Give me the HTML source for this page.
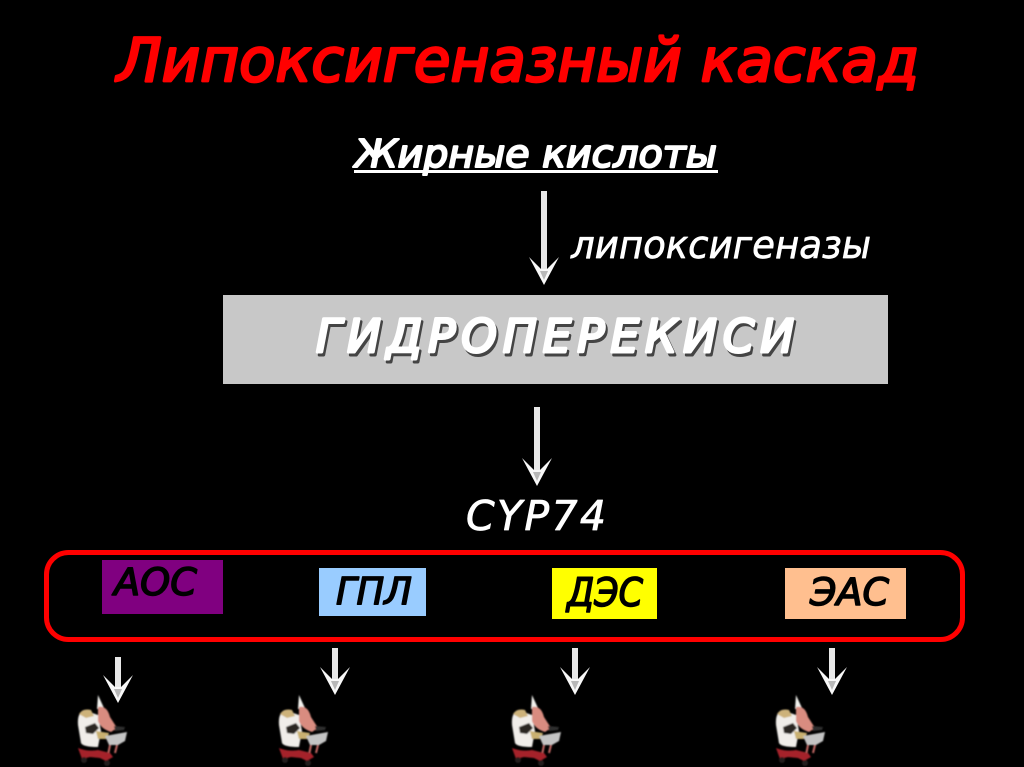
<!DOCTYPE html>
<html lang="ru"><head><meta charset="utf-8"><title>Липоксигеназный каскад</title>
<style>html,body{margin:0;padding:0;background:#000;width:1024px;height:767px;overflow:hidden}svg{display:block}
text{font-family:"DejaVu Sans","Liberation Sans",sans-serif;font-style:italic;stroke-linejoin:round;stroke-linecap:round}</style></head>
<body>
<svg width="1024" height="767" viewBox="0 0 1024 767" xmlns="http://www.w3.org/2000/svg">
<defs>
<filter id="soft" x="-10%" y="-10%" width="120%" height="120%"><feGaussianBlur stdDeviation="0.7"/></filter>
<g id="head">
<path d="M-15 -28 L0 0 L15 -28 L3 -16 L-3 -16 Z" fill="#f8f8f8"/>
<path d="M-4 -14 L0 -5 L4 -14 Z" fill="#b8b8b8"/>
</g>
<g id="chef" filter="url(#soft)">
<path d="M20 0 L26 13 L19 14 Z" fill="#f2f2ee"/>
<path d="M6 15 Q-1 18 0 30 L3 48 Q5 52 20 52 L23 36 L20 20 Z" fill="#f0ede9"/>
<path d="M1 19 Q5 13 13 15 L16 21 L8 23 Z" fill="#cdb27a"/>
<path d="M20 12 Q29 10 32 22 L39 33 L33 37 Q23 34 20 26 Z" fill="#d98c80"/>
<path d="M7 32 L17 28 L21 33 L15 39 L8 38 Z" fill="#2b2623"/>
<path d="M18 36 L31 38 L29 44 L20 44 Z" fill="#c9b070"/>
<path d="M36 31 L47 32 L46 35 L37 36 Z" fill="#2f2f2f"/>
<path d="M27 41 L49 37 L47 46 L40 50 L31 50 Z" fill="#c4c4c4"/>
<path d="M32 50 L30 60 M39 50 L37 58" stroke="#c86a66" stroke-width="2"/>
<path d="M0 53 Q10 57 20 55 L32 58 L35 62 L28 66 L22 63 L12 62 L4 64 Z" fill="#a5222a"/>
<circle cx="6" cy="65" r="3" fill="#241b1b"/><circle cx="29" cy="68" r="3" fill="#241b1b"/>
</g>
</defs>
<rect width="1024" height="767" fill="#000"/>

<text x="117" y="81" font-size="60" fill="#f00" stroke="#f00" stroke-width="2.700" textLength="802" lengthAdjust="spacingAndGlyphs">Липоксигеназный каскад</text>

<text x="355" y="167" font-size="38" fill="#fff" stroke="#fff" stroke-width="2" textLength="362" lengthAdjust="spacingAndGlyphs">Жирные кислоты</text>
<rect x="354" y="170" width="364" height="3" fill="#fff"/>

<rect x="541" y="191" width="6" height="78" fill="#e8e8e8"/>
<use href="#head" transform="translate(544,285)"/>
<text x="571" y="258" font-size="38" fill="#fff" stroke="#fff" stroke-width=".7" textLength="300" lengthAdjust="spacingAndGlyphs">липоксигеназы</text>

<rect x="223" y="295" width="665" height="89" fill="#c8c8c8"/>
<text x="318" y="355" font-size="45" fill="#444" stroke="#444" stroke-width="3" textLength="478" lengthAdjust="spacing">ГИДРОПЕРЕКИСИ</text>
<text x="316" y="352" font-size="45" fill="#fff" stroke="#fff" stroke-width="3" textLength="478" lengthAdjust="spacing">ГИДРОПЕРЕКИСИ</text>

<rect x="534" y="407" width="6" height="63" fill="#e8e8e8"/>
<use href="#head" transform="translate(537,486)"/>
<text x="466" y="530" font-size="41" fill="#fff" stroke="#fff" stroke-width=".8" textLength="140" lengthAdjust="spacing">CYP74</text>

<rect x="46.500" y="552.500" width="916" height="87" rx="22" fill="none" stroke="#f00" stroke-width="5"/>

<rect x="102" y="560" width="121" height="54" fill="#800080"/>
<text x="114" y="595" font-size="37" fill="#000" stroke="#000" stroke-width="1.500" textLength="83" lengthAdjust="spacingAndGlyphs">АОС</text>
<rect x="319" y="568" width="107" height="48" fill="#99ccff"/>
<text x="336" y="604" font-size="37" fill="#000" stroke="#000" stroke-width="1.500" textLength="76" lengthAdjust="spacingAndGlyphs">ГПЛ</text>
<rect x="552" y="568" width="105" height="51" fill="#ffff00"/>
<text x="567" y="606" font-size="39" fill="#000" stroke="#000" stroke-width="1.500" textLength="76" lengthAdjust="spacingAndGlyphs">ДЭС</text>
<rect x="785" y="568" width="121" height="51" fill="#ffbf8f"/>
<text x="810" y="605" font-size="37" fill="#000" stroke="#000" stroke-width="1.500" textLength="79" lengthAdjust="spacingAndGlyphs">ЭАС</text>

<rect x="115" y="657" width="6" height="31" fill="#e8e8e8"/><use href="#head" transform="translate(118,703)"/>
<rect x="332" y="648" width="6" height="32" fill="#e8e8e8"/><use href="#head" transform="translate(335,695)"/>
<rect x="572" y="648" width="6" height="32" fill="#e8e8e8"/><use href="#head" transform="translate(575,695)"/>
<rect x="829" y="648" width="6" height="32" fill="#e8e8e8"/><use href="#head" transform="translate(832,695)"/>

<use href="#chef" transform="translate(78,695)"/>
<use href="#chef" transform="translate(279,695)"/>
<use href="#chef" transform="translate(512,695)"/>
<use href="#chef" transform="translate(776,695)"/>
</svg>
</body></html>
